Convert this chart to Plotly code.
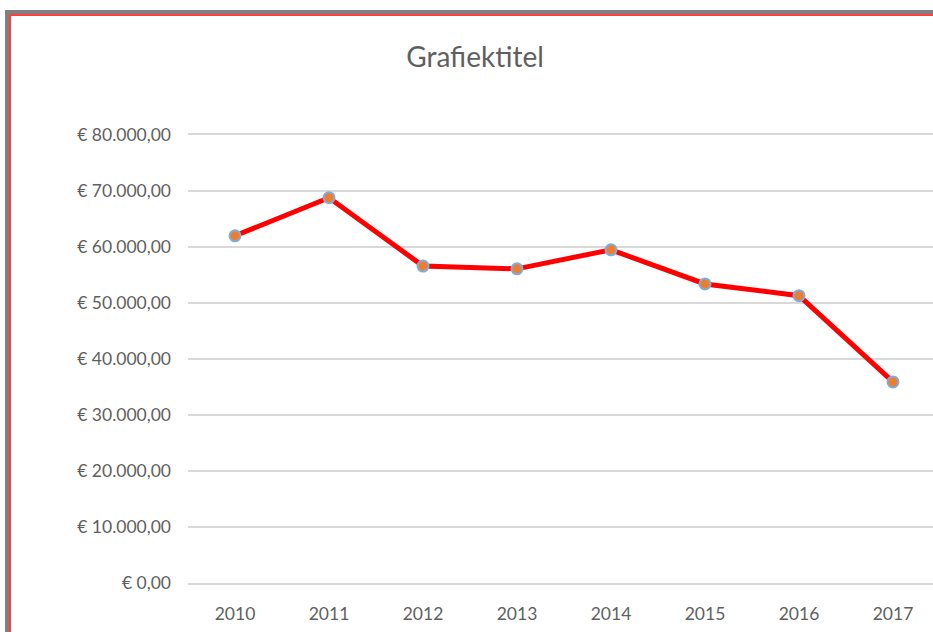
import plotly.graph_objects as go

years = ["2010", "2011", "2012", "2013", "2014", "2015", "2016", "2017"]
values = [62000, 68800, 56600, 56100, 59500, 53400, 51300, 35900]
y_tick_vals = [0, 10000, 20000, 30000, 40000, 50000, 60000, 70000, 80000]
y_tick_text = ["€ 0,00", "€ 10.000,00", "€ 20.000,00", "€ 30.000,00", "€ 40.000,00",
               "€ 50.000,00", "€ 60.000,00", "€ 70.000,00", "€ 80.000,00"]

W, H = 933, 632
L, R, T, B = 188, 0, 135, 49
pw, ph = W - L - R, H - T - B

def px(x):
    return (x - L) / pw

def py(y):
    return (H - B - y) / ph

fig = go.Figure()
fig.add_trace(go.Scatter(
    x=years, y=values, mode="lines+markers",
    line=dict(color="#FF0000", width=5),
    marker=dict(size=11, color="#ED7D31", line=dict(color="#7FAEDB", width=2)),
    cliponaxis=False, showlegend=False,
))

font = "Lato, 'Open Sans', sans-serif"
shapes = [
    dict(type="rect", xref="paper", yref="paper", x0=px(5), x1=px(W + 2), y0=py(14), y1=py(10),
         fillcolor="#808080", line=dict(width=0), layer="above"),
    dict(type="rect", xref="paper", yref="paper", x0=px(9), x1=px(W + 2), y0=py(16), y1=py(14),
         fillcolor="#FF4040", line=dict(width=0), layer="above"),
    dict(type="rect", xref="paper", yref="paper", x0=px(5), x1=px(9), y0=py(H + 2), y1=py(10),
         fillcolor="#808080", line=dict(width=0), layer="above"),
    dict(type="rect", xref="paper", yref="paper", x0=px(9), x1=px(11), y0=py(H + 2), y1=py(14),
         fillcolor="#FF4040", line=dict(width=0), layer="above"),
]

fig.update_layout(
    width=W, height=H,
    margin=dict(l=L, r=R, t=T, b=B, pad=0),
    paper_bgcolor="white", plot_bgcolor="white",
    title=dict(text="Grafiektitel", x=475 / W, xanchor="center", y=1 - 57 / H, yanchor="middle",
               font=dict(family=font, size=28, color="#5f5f5f")),
    font=dict(family=font, color="#5f5f5f", size=17.5),
    shapes=shapes,
    xaxis=dict(type="category", range=[-0.5, 7 + (W - 893) / 94], showgrid=False, zeroline=False,
               showline=True, mirror=True, linecolor="#D9D9D9", linewidth=1.5,
               ticks="", ticklabelstandoff=14, tickfont=dict(size=17.5, color="#5f5f5f"), fixedrange=True),
    yaxis=dict(range=[0, 80000], tickvals=y_tick_vals, ticktext=y_tick_text,
               showgrid=True, gridcolor="#D9D9D9", gridwidth=1.5, zeroline=False, showline=False,
               ticks="", ticklabelstandoff=16, tickfont=dict(size=17.5, color="#5f5f5f"), fixedrange=True),
)
fig.write_html("out.html", config={"displayModeBar": False},
               post_script="document.body.style.margin='0';document.body.style.overflow='hidden';")
